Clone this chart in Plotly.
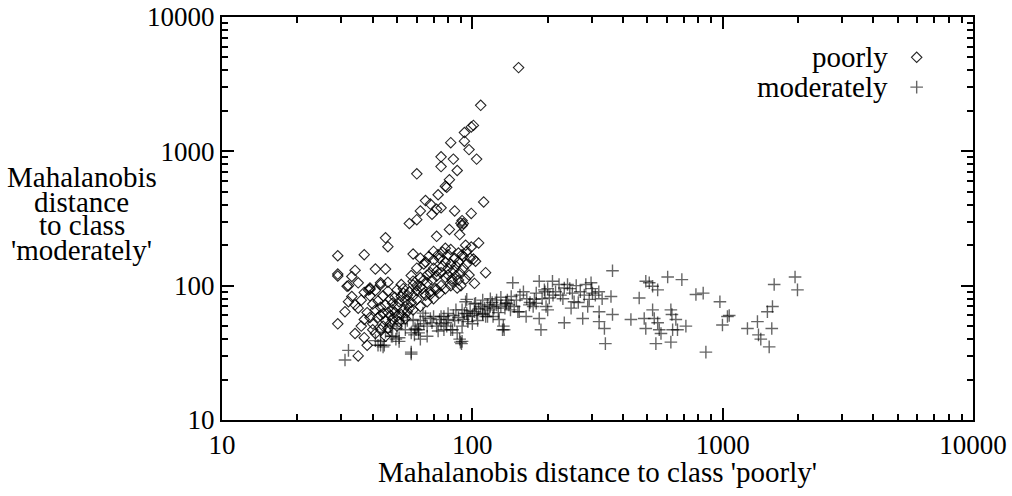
import plotly.graph_objects as go

# ---- data ----
poorly_x = [153, 108, 101, 99, 93, 82, 93, 97, 75, 84, 104, 75, 87, 60, 81, 78, 79, 73, 65, 111,
            68, 75, 72, 62, 69, 85, 99, 56, 60, 91, 90, 92, 91, 81, 89, 72, 45, 46, 106, 99,
            58, 29, 37, 82, 78, 91, 101, 103, 113, 102, 34, 41, 45, 29, 29, 33, 32, 35, 39, 37,
            43, 46, 50, 52, 58, 87, 83, 33, 31, 29, 34, 35, 38, 37, 36, 35, 32, 34, 38.5, 36,
            57, 60, 64, 31.6, 39, 43,
            62, 65, 67, 70, 72, 74, 76, 78, 80, 82, 84, 86, 88, 70, 68, 66, 64, 62, 60, 63,
            66, 69, 72, 75, 78, 80, 83, 86, 89, 92, 95, 97, 75, 71, 68, 65, 78, 82, 88, 90,
            94, 85, 88, 92, 95, 80, 76, 73, 70, 94, 98,
            40, 42, 44, 46, 48, 50, 52, 54, 56, 58, 41, 43, 45, 47, 49, 51, 53, 55, 57, 39,
            41, 44, 46, 48, 50, 52, 54, 56, 58, 60, 62, 64, 42, 44, 46, 48, 50, 45, 47, 43,
            40, 38, 37, 39, 41, 43, 40, 55, 53, 51, 49, 47, 45, 60, 62, 58, 55, 53, 66, 68,
            70, 72, 74]
poorly_y = [4200, 2200, 1560, 1520, 1380, 1160, 1190, 1030, 910, 875, 875, 770, 720, 680, 615, 550, 540, 475, 430, 420,
            405, 380, 370, 360, 340, 360, 345, 290, 310, 305, 292, 290, 280, 262, 240, 233, 227, 195, 208, 194,
            172, 167, 170, 186, 190, 170, 158, 152, 125, 104, 130, 133, 133, 122, 118, 117, 100, 105, 94, 89,
            105, 106, 93, 102, 108, 96, 108, 83, 64, 52, 44, 30, 36, 41, 50, 68, 76, 72, 93, 78,
            119, 135, 145, 99, 96, 102,
            160, 150, 165, 155, 128, 160, 140, 150, 135, 145, 130, 140, 150, 135, 125, 120, 110, 115, 100, 95,
            105, 110, 118, 125, 115, 120, 112, 118, 125, 135, 145, 120, 100, 95, 90, 85, 95, 100, 110, 100,
            112, 160, 175, 165, 180, 170, 178, 170, 180, 200, 160,
            52, 58, 50, 63, 56, 70, 61, 78, 68, 84, 66, 47, 72, 60, 82, 54, 88, 64, 75, 58,
            44, 62, 48, 74, 59, 83, 57, 90, 66, 79, 70, 88, 77, 84, 91, 66, 50, 55, 79, 69,
            73, 63, 56, 84, 92, 60, 47, 72, 66, 76, 63, 52, 42, 92, 98, 101, 85, 95, 76, 86,
            80, 94, 88]

moderately_x = [31, 32, 57, 57, 44, 43, 41, 48, 51, 62, 66, 61, 59, 77, 73, 82, 89.6, 90.5, 70, 75,
                80, 95, 102, 86, 91, 96, 102, 110, 115, 121, 127, 133, 137, 143, 145, 147, 152, 42, 44.5, 43,
                49.5, 51, 47.5, 59.6, 61, 58.7, 60.5, 68, 74, 78.5, 77, 89, 91, 83.4, 87, 91, 94, 103, 110, 113,
                117, 128, 134, 136, 63.5, 65, 54, 57,
                45, 47, 50, 52, 55, 53, 58, 62, 64, 66, 69, 72, 75, 79, 85, 88, 92, 95, 98, 100,
                104, 106, 108, 112, 115, 118, 120, 122, 125, 130, 135, 140, 142, 105, 100, 96, 93, 80, 84, 110,
                118, 125, 130, 138, 150, 155, 160, 165, 170, 175, 180, 190, 195, 200, 210, 215, 225, 230, 245, 260,
                270, 280, 300, 265, 310, 320, 330,
                132, 188, 185, 209, 194, 180, 222, 240, 233, 203, 197, 200, 169, 177, 164, 185, 154,
                284, 298, 302, 293, 289, 276, 321, 321, 337, 340, 358, 363, 363, 251, 255, 248, 233,
                430, 464, 486, 493, 493, 509, 525, 550, 525, 533, 550, 558, 567, 541, 603, 621, 627, 650, 631, 621,
                687, 713, 660,
                782, 836, 975, 1062, 1045, 998, 857, 1256, 1377, 1390, 1420, 1534, 1571, 1509, 1581, 1606, 1946, 1990]
moderately_y = [28, 33, 32, 31, 35, 36, 39, 42, 41, 40, 42, 47, 48, 47, 46, 47, 38, 37, 59, 59,
                56, 79, 73, 66, 66, 59, 64, 61, 59, 59, 63, 50, 74, 83, 105, 70, 64, 36, 36, 38.5,
                40, 38.5, 42, 47, 44.5, 43, 50, 57, 56, 53, 59, 40, 38.5, 47, 44.5, 50, 76, 74, 62, 59,
                66, 56, 47, 74, 62.5, 59, 47, 44.5,
                45, 50, 48, 52, 55, 58, 56, 55, 52, 50, 53, 50, 52, 50, 55, 58, 56, 62, 65, 60,
                62, 67, 70, 68, 72, 70, 75, 68, 72, 70, 68, 72, 66, 55, 52, 54, 62, 62, 60, 78,
                80, 78, 82, 78, 78, 85, 90, 80, 75, 70, 74, 80, 90, 95, 85, 90, 85, 80, 95, 100,
                90, 85, 95, 75, 85, 90, 80,
                47, 47, 108, 108, 93, 88, 102, 102, 96, 81, 70, 66, 72, 79, 59, 57, 64,
                102, 105, 88, 79, 70, 57, 64, 54, 48, 37, 83, 129, 61, 88, 76, 68, 53,
                56, 81, 57, 48, 108, 105, 99, 93, 66, 57, 53, 47, 44, 37, 116, 66, 61, 56, 47, 38,
                111, 50, 47,
                86, 88, 76, 60, 59, 51, 32, 48, 54, 43, 40, 35, 48, 64, 70, 102, 116, 93]

x_tick_vals = [10, 100, 1000, 10000]
x_tick_text = ["10", "100", "1000", "10000"]
y_tick_vals = [10, 100, 1000, 10000]
y_tick_text = ["10", "100", "1000", "10000"]
minor_tick_vals = [m * d for d in (10, 100, 1000) for m in range(2, 10)]

series_names = ["poorly", "moderately"]
x_title = "Mahalanobis distance to class 'poorly'"
y_title_lines = ["Mahalanobis", "distance", "to class", "'moderately'"]

FONT = "Liberation Serif"
FS_TICK = 27
FS_TEXT = 29

diamond_style = dict(symbol="diamond-open", size=8, color="rgba(0,0,0,0.85)",
                     line=dict(width=1.1, color="rgba(0,0,0,0.85)"))
cross_style = dict(symbol="cross-thin-open", size=9, color="rgba(0,0,0,0.6)",
                   line=dict(width=1.4, color="rgba(0,0,0,0.6)"))

fig = go.Figure()
fig.add_trace(go.Scatter(x=poorly_x, y=poorly_y, mode="markers", name=series_names[0],
                         marker=diamond_style, showlegend=False))
fig.add_trace(go.Scatter(x=moderately_x, y=moderately_y, mode="markers", name=series_names[1],
                         marker=cross_style, showlegend=False))

# key samples (drawn on an overlay 0..1 axis pair, like gnuplot's key)
key_x = [0.925, 0.925]
key_y = [0.90, 0.826]
fig.add_trace(go.Scatter(x=[key_x[0]], y=[key_y[0]], xaxis="x2", yaxis="y2", mode="markers",
                         marker=diamond_style, showlegend=False, hoverinfo="skip"))
fig.add_trace(go.Scatter(x=[key_x[1]], y=[key_y[1]], xaxis="x2", yaxis="y2", mode="markers",
                         marker=cross_style, showlegend=False, hoverinfo="skip"))

axis_common = dict(
    type="log", range=[1, 4], showgrid=False, zeroline=False, automargin=False,
    showline=True, linecolor="black", linewidth=2, mirror="allticks",
    ticks="inside", ticklen=12, tickwidth=1.5, tickcolor="black",
    tickfont=dict(family=FONT, size=FS_TICK, color="black"),
    minor=dict(ticks="inside", ticklen=6, tickwidth=1.5, tickcolor="black", showgrid=False,
               tickvals=minor_tick_vals),
)

fig.update_layout(
    width=1012, height=496,
    margin=dict(l=222, r=39, t=17, b=76, autoexpand=False),
    paper_bgcolor="white", plot_bgcolor="white",
    font=dict(family=FONT, size=FS_TEXT, color="black"),
    xaxis=dict(axis_common, tickvals=x_tick_vals, ticktext=x_tick_text),
    yaxis=dict(axis_common, tickvals=y_tick_vals, ticktext=y_tick_text),
    xaxis2=dict(overlaying="x", range=[0, 1], visible=False, fixedrange=True),
    yaxis2=dict(overlaying="y", range=[0, 1], visible=False, fixedrange=True),
    showlegend=False,
)

ann = []
ann.append(dict(text=x_title, xref="paper", yref="paper", x=0.5, y=-0.129,
                xanchor="center", yanchor="middle", showarrow=False,
                font=dict(family=FONT, size=FS_TEXT, color="black")))
y_line_pos = [0.602, 0.540, 0.483, 0.423]
for txt, yy in zip(y_title_lines, y_line_pos):
    ann.append(dict(text=txt, xref="paper", yref="paper", x=-0.187, y=yy,
                    xanchor="center", yanchor="middle", showarrow=False,
                    font=dict(family=FONT, size=FS_TEXT, color="black")))
for name, yy in zip(series_names, key_y):
    ann.append(dict(text=name, xref="paper", yref="paper", x=0.889, y=yy,
                    xanchor="right", yanchor="middle", showarrow=False,
                    font=dict(family=FONT, size=FS_TEXT, color="black")))
fig.update_layout(annotations=ann)

fig.write_html("out.html")
